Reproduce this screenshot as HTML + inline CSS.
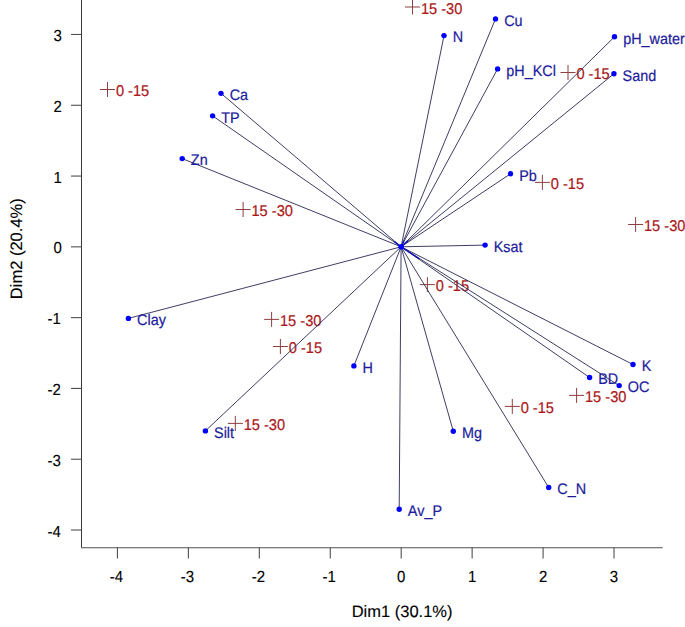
<!DOCTYPE html>
<html><head><meta charset="utf-8"><style>
html,body{margin:0;padding:0;background:#fff;}
body{width:685px;height:627px;overflow:hidden;}
svg{display:block;}
text{font-family:"Liberation Sans",sans-serif;text-rendering:geometricPrecision;}
</style></head><body>
<svg width="685" height="627" viewBox="0 0 685 627">
<rect width="685" height="627" fill="#fff"/>
<g stroke="#8c4040" stroke-width="1" fill="none">
<path d="M405.00 7.00h15M412.50 -0.50v15"/>
<path d="M100.00 89.50h15M107.50 82.00v15"/>
<path d="M560.50 72.50h15M568.00 65.00v15"/>
<path d="M534.90 182.40h15M542.40 174.90v15"/>
<path d="M628.10 224.50h15M635.60 217.00v15"/>
<path d="M235.60 209.50h15M243.10 202.00v15"/>
<path d="M419.90 284.60h15M427.40 277.10v15"/>
<path d="M264.10 319.40h15M271.60 311.90v15"/>
<path d="M272.90 346.50h15M280.40 339.00v15"/>
<path d="M569.10 395.40h15M576.60 387.90v15"/>
<path d="M504.80 406.40h15M512.30 398.90v15"/>
<path d="M227.80 423.40h15M235.30 415.90v15"/>
</g>
<g fill="#aa1820" stroke="#aa1820" stroke-width="0.2" font-size="14.6">
<text transform="translate(420.90 13.80) scale(1 1.07)">15 -30</text>
<text transform="translate(115.90 96.30) scale(1 1.07)">0 -15</text>
<text transform="translate(576.40 79.30) scale(1 1.07)">0 -15</text>
<text transform="translate(550.80 189.20) scale(1 1.07)">0 -15</text>
<text transform="translate(644.00 231.30) scale(1 1.07)">15 -30</text>
<text transform="translate(251.50 216.30) scale(1 1.07)">15 -30</text>
<text transform="translate(435.80 291.40) scale(1 1.07)">0 -15</text>
<text transform="translate(280.00 326.20) scale(1 1.07)">15 -30</text>
<text transform="translate(288.80 353.30) scale(1 1.07)">0 -15</text>
<text transform="translate(585.00 402.20) scale(1 1.07)">15 -30</text>
<text transform="translate(520.70 413.20) scale(1 1.07)">0 -15</text>
<text transform="translate(243.70 430.20) scale(1 1.07)">15 -30</text>
</g>
<g stroke="#34345c" stroke-width="0.95" fill="none">
<line x1="401.10" y1="246.80" x2="495.50" y2="18.90"/>
<line x1="401.10" y1="246.80" x2="444.00" y2="35.60"/>
<line x1="401.10" y1="246.80" x2="614.50" y2="36.80"/>
<line x1="401.10" y1="246.80" x2="497.60" y2="68.90"/>
<line x1="401.10" y1="246.80" x2="613.90" y2="73.80"/>
<line x1="401.10" y1="246.80" x2="221.00" y2="93.35"/>
<line x1="401.10" y1="246.80" x2="212.60" y2="115.85"/>
<line x1="401.10" y1="246.80" x2="182.20" y2="158.60"/>
<line x1="401.10" y1="246.80" x2="510.50" y2="173.80"/>
<line x1="401.10" y1="246.80" x2="485.10" y2="245.10"/>
<line x1="401.10" y1="246.80" x2="128.40" y2="318.40"/>
<line x1="401.10" y1="246.80" x2="353.90" y2="365.90"/>
<line x1="401.10" y1="246.80" x2="633.00" y2="364.50"/>
<line x1="401.10" y1="246.80" x2="589.60" y2="377.50"/>
<line x1="401.10" y1="246.80" x2="619.20" y2="385.60"/>
<line x1="401.10" y1="246.80" x2="205.40" y2="430.90"/>
<line x1="401.10" y1="246.80" x2="453.30" y2="431.30"/>
<line x1="401.10" y1="246.80" x2="548.70" y2="487.50"/>
<line x1="401.10" y1="246.80" x2="399.20" y2="509.30"/>
</g>
<g stroke="#1414c0" fill="none" stroke-linecap="round">
<line x1="401.10" y1="246.80" x2="418.60" y2="258.40" stroke-width="1.40"/>
<line x1="401.10" y1="246.80" x2="407.79" y2="240.78" stroke-width="1.40"/>
<line x1="401.10" y1="246.80" x2="394.77" y2="241.91" stroke-width="1.40"/>
<line x1="401.10" y1="246.80" x2="403.65" y2="241.37" stroke-width="1.20"/>
</g>
<g fill="#0000ff">
<circle cx="401.10" cy="246.80" r="2.8"/>
<circle cx="495.50" cy="18.90" r="2.7"/>
<circle cx="444.00" cy="35.60" r="2.7"/>
<circle cx="614.50" cy="36.80" r="2.7"/>
<circle cx="497.60" cy="68.90" r="2.7"/>
<circle cx="613.90" cy="73.80" r="2.7"/>
<circle cx="221.00" cy="93.35" r="2.7"/>
<circle cx="212.60" cy="115.85" r="2.7"/>
<circle cx="182.20" cy="158.60" r="2.7"/>
<circle cx="510.50" cy="173.80" r="2.7"/>
<circle cx="485.10" cy="245.10" r="2.7"/>
<circle cx="128.40" cy="318.40" r="2.7"/>
<circle cx="353.90" cy="365.90" r="2.7"/>
<circle cx="633.00" cy="364.50" r="2.7"/>
<circle cx="589.60" cy="377.50" r="2.7"/>
<circle cx="619.20" cy="385.60" r="2.7"/>
<circle cx="205.40" cy="430.90" r="2.7"/>
<circle cx="453.30" cy="431.30" r="2.7"/>
<circle cx="548.70" cy="487.50" r="2.7"/>
<circle cx="399.20" cy="509.30" r="2.7"/>
</g>
<g fill="#1c1c9c" stroke="#1c1c9c" stroke-width="0.2" font-size="14.4">
<text transform="translate(504.15 25.70) scale(1 1.07)">Cu</text>
<text transform="translate(452.65 42.40) scale(1 1.07)">N</text>
<text transform="translate(623.15 43.60) scale(1 1.07)">pH_water</text>
<text transform="translate(506.25 75.70) scale(1 1.07)">pH_KCl</text>
<text transform="translate(622.55 80.60) scale(1 1.07)">Sand</text>
<text transform="translate(229.65 100.15) scale(1 1.07)">Ca</text>
<text transform="translate(221.25 122.65) scale(1 1.07)">TP</text>
<text transform="translate(190.85 165.40) scale(1 1.07)">Zn</text>
<text transform="translate(519.15 180.60) scale(1 1.07)">Pb</text>
<text transform="translate(493.75 251.90) scale(1 1.07)">Ksat</text>
<text transform="translate(137.05 325.20) scale(1 1.07)">Clay</text>
<text transform="translate(362.55 372.70) scale(1 1.07)">H</text>
<text transform="translate(641.65 371.30) scale(1 1.07)">K</text>
<text transform="translate(598.25 384.30) scale(1 1.07)">BD</text>
<text transform="translate(627.85 392.40) scale(1 1.07)">OC</text>
<text transform="translate(214.05 437.70) scale(1 1.07)">Silt</text>
<text transform="translate(461.95 438.10) scale(1 1.07)">Mg</text>
<text transform="translate(557.35 494.30) scale(1 1.07)">C_N</text>
<text transform="translate(407.85 516.10) scale(1 1.07)">Av_P</text>
</g>
<path d="M81.5 0V547.5" stroke="#3a3a3a" stroke-width="1" fill="none"/>
<path d="M81 547.75H662.7" stroke="#505050" stroke-width="1.2" fill="none"/>
<g stroke="#505050" stroke-width="1.1" fill="none">
<line x1="117.44" y1="547.5" x2="117.44" y2="558.5"/>
<line x1="188.38" y1="547.5" x2="188.38" y2="558.5"/>
<line x1="259.32" y1="547.5" x2="259.32" y2="558.5"/>
<line x1="330.26" y1="547.5" x2="330.26" y2="558.5"/>
<line x1="401.20" y1="547.5" x2="401.20" y2="558.5"/>
<line x1="472.14" y1="547.5" x2="472.14" y2="558.5"/>
<line x1="543.08" y1="547.5" x2="543.08" y2="558.5"/>
<line x1="614.02" y1="547.5" x2="614.02" y2="558.5"/>
<line x1="71" y1="530.01" x2="81.5" y2="530.01"/>
<line x1="71" y1="459.22" x2="81.5" y2="459.22"/>
<line x1="71" y1="388.43" x2="81.5" y2="388.43"/>
<line x1="71" y1="317.64" x2="81.5" y2="317.64"/>
<line x1="71" y1="246.85" x2="81.5" y2="246.85"/>
<line x1="71" y1="176.06" x2="81.5" y2="176.06"/>
<line x1="71" y1="105.27" x2="81.5" y2="105.27"/>
<line x1="71" y1="34.48" x2="81.5" y2="34.48"/>
</g>
<g fill="#000" stroke="#000" stroke-width="0.12" font-size="15">
<text text-anchor="middle" transform="translate(116.44 582) scale(1 1.07)">-4</text>
<text text-anchor="middle" transform="translate(187.38 582) scale(1 1.07)">-3</text>
<text text-anchor="middle" transform="translate(258.32 582) scale(1 1.07)">-2</text>
<text text-anchor="middle" transform="translate(329.26 582) scale(1 1.07)">-1</text>
<text text-anchor="middle" transform="translate(401.20 582) scale(1 1.07)">0</text>
<text text-anchor="middle" transform="translate(472.14 582) scale(1 1.07)">1</text>
<text text-anchor="middle" transform="translate(543.08 582) scale(1 1.07)">2</text>
<text text-anchor="middle" transform="translate(614.02 582) scale(1 1.07)">3</text>
<text text-anchor="end" transform="translate(60.90 536.51) scale(1 1.07)">-4</text>
<text text-anchor="end" transform="translate(60.90 465.72) scale(1 1.07)">-3</text>
<text text-anchor="end" transform="translate(60.90 394.93) scale(1 1.07)">-2</text>
<text text-anchor="end" transform="translate(60.90 324.14) scale(1 1.07)">-1</text>
<text text-anchor="end" transform="translate(61.80 253.35) scale(1 1.07)">0</text>
<text text-anchor="end" transform="translate(61.80 182.56) scale(1 1.07)">1</text>
<text text-anchor="end" transform="translate(61.80 111.77) scale(1 1.07)">2</text>
<text text-anchor="end" transform="translate(61.80 40.98) scale(1 1.07)">3</text>
<text x="402.1" y="616.9" text-anchor="middle" font-size="16.5">Dim1 (30.1%)</text>
<text transform="translate(22.3 248.7) rotate(-90)" text-anchor="middle" font-size="16.5">Dim2 (20.4%)</text>
</g>
</svg>
</body></html>
